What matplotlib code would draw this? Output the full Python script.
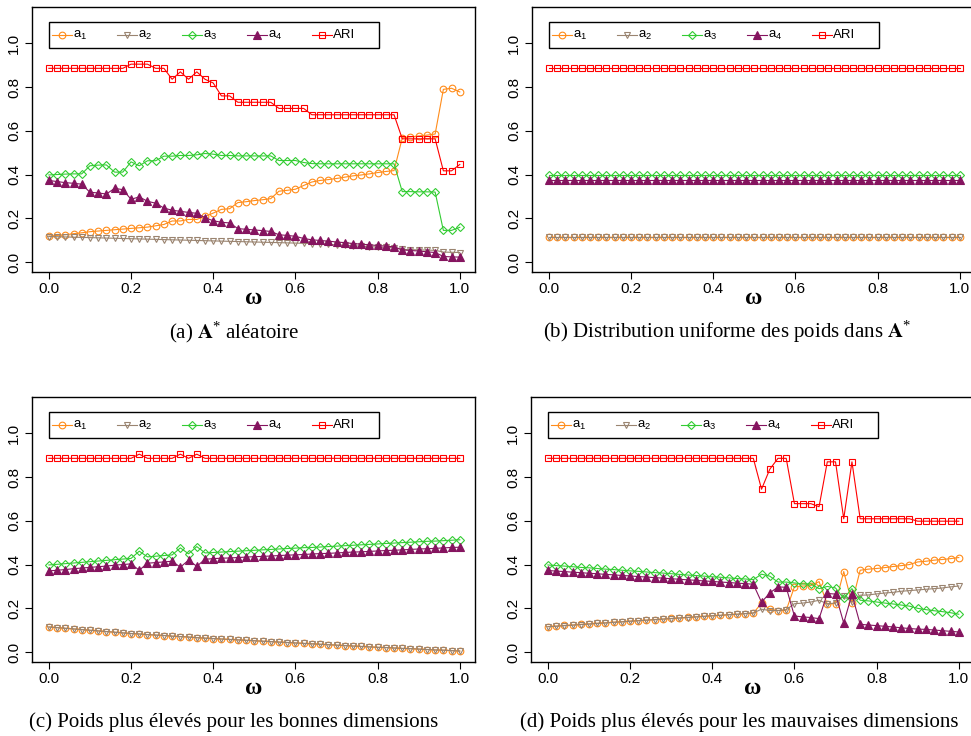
import matplotlib
matplotlib.use("Agg")
import matplotlib.pyplot as plt
from matplotlib.lines import Line2D
from matplotlib.patches import Rectangle

plt.rcParams['font.family'] = ['Liberation Sans', 'DejaVu Sans']
plt.rcParams['mathtext.default'] = 'regular'

# valeurs de omega (pas de 0.02)
omega = [0.00, 0.02, 0.04, 0.06, 0.08, 0.10, 0.12, 0.14, 0.16, 0.18,
         0.20, 0.22, 0.24, 0.26, 0.28, 0.30, 0.32, 0.34, 0.36, 0.38,
         0.40, 0.42, 0.44, 0.46, 0.48, 0.50, 0.52, 0.54, 0.56, 0.58,
         0.60, 0.62, 0.64, 0.66, 0.68, 0.70, 0.72, 0.74, 0.76, 0.78,
         0.80, 0.82, 0.84, 0.86, 0.88, 0.90, 0.92, 0.94, 0.96, 0.98, 1.00]

# ---- (a) A* aleatoire ----
a1_a = [0.119, 0.122, 0.125, 0.130, 0.134, 0.139, 0.142, 0.145, 0.148, 0.151,
        0.154, 0.157, 0.160, 0.166, 0.172, 0.188, 0.188, 0.195, 0.195, 0.209,
        0.224, 0.241, 0.244, 0.272, 0.276, 0.281, 0.285, 0.290, 0.324, 0.328,
        0.333, 0.350, 0.366, 0.373, 0.377, 0.382, 0.388, 0.394, 0.398, 0.403,
        0.409, 0.414, 0.418, 0.567, 0.572, 0.576, 0.580, 0.585, 0.789, 0.794, 0.777]
a2_a = [0.117, 0.116, 0.115, 0.114, 0.113, 0.112, 0.111, 0.110, 0.109, 0.108,
        0.107, 0.106, 0.105, 0.104, 0.103, 0.102, 0.101, 0.100, 0.099, 0.098,
        0.097, 0.096, 0.095, 0.094, 0.093, 0.092, 0.091, 0.090, 0.089, 0.088,
        0.087, 0.086, 0.085, 0.083, 0.081, 0.079, 0.077, 0.075, 0.073, 0.071,
        0.069, 0.067, 0.066, 0.058, 0.057, 0.056, 0.055, 0.054, 0.046, 0.045, 0.044]
a3_a = [0.398, 0.400, 0.402, 0.403, 0.403, 0.440, 0.443, 0.444, 0.411, 0.411,
        0.458, 0.440, 0.463, 0.463, 0.484, 0.484, 0.487, 0.487, 0.490, 0.496,
        0.493, 0.487, 0.487, 0.485, 0.485, 0.485, 0.485, 0.485, 0.464, 0.464,
        0.464, 0.455, 0.450, 0.449, 0.449, 0.449, 0.449, 0.449, 0.449, 0.449,
        0.449, 0.449, 0.449, 0.322, 0.322, 0.321, 0.321, 0.320, 0.145, 0.145, 0.159]
a4_a = [0.373, 0.368, 0.363, 0.360, 0.356, 0.319, 0.316, 0.311, 0.337, 0.331,
        0.287, 0.298, 0.278, 0.269, 0.247, 0.237, 0.232, 0.227, 0.223, 0.203,
        0.189, 0.182, 0.179, 0.153, 0.150, 0.147, 0.144, 0.140, 0.125, 0.122,
        0.118, 0.108, 0.102, 0.099, 0.096, 0.092, 0.089, 0.085, 0.082, 0.079,
        0.076, 0.073, 0.070, 0.056, 0.053, 0.051, 0.047, 0.044, 0.026, 0.024, 0.023]
ari_a = [0.885, 0.885, 0.885, 0.885, 0.885, 0.885, 0.885, 0.885, 0.885, 0.885,
         0.904, 0.904, 0.904, 0.885, 0.885, 0.835, 0.869, 0.835, 0.869, 0.835,
         0.818, 0.759, 0.759, 0.730, 0.730, 0.730, 0.730, 0.730, 0.702, 0.702,
         0.702, 0.702, 0.673, 0.673, 0.673, 0.673, 0.673, 0.673, 0.673, 0.673,
         0.673, 0.673, 0.673, 0.563, 0.563, 0.563, 0.563, 0.563, 0.417, 0.417, 0.446]

# ---- (b) distribution uniforme : valeurs constantes ----
a1_b = [0.117] * 51
a2_b = [0.117] * 51
a3_b = [0.398] * 51
a4_b = [0.373] * 51
ari_b = [0.885] * 51

# ---- (c) poids eleves pour les bonnes dimensions ----
a1_c = [0.115, 0.112, 0.109, 0.106, 0.103, 0.100, 0.097, 0.094, 0.091, 0.088,
        0.085, 0.083, 0.080, 0.078, 0.076, 0.073, 0.071, 0.069, 0.066, 0.064,
        0.062, 0.060, 0.058, 0.056, 0.054, 0.052, 0.050, 0.048, 0.046, 0.044,
        0.042, 0.040, 0.038, 0.036, 0.034, 0.032, 0.030, 0.028, 0.026, 0.024,
        0.022, 0.021, 0.019, 0.017, 0.016, 0.014, 0.012, 0.010, 0.009, 0.007, 0.005]
a2_c = list(a1_c)
a3_c = [0.398, 0.401, 0.404, 0.407, 0.410, 0.413, 0.416, 0.419, 0.422, 0.425,
        0.428, 0.461, 0.435, 0.438, 0.441, 0.444, 0.476, 0.449, 0.482, 0.453,
        0.455, 0.457, 0.459, 0.461, 0.463, 0.465, 0.467, 0.469, 0.471, 0.473,
        0.475, 0.477, 0.478, 0.480, 0.482, 0.484, 0.486, 0.488, 0.490, 0.492,
        0.494, 0.496, 0.498, 0.500, 0.502, 0.504, 0.506, 0.507, 0.509, 0.511, 0.513]
a4_c = [0.371, 0.374, 0.377, 0.381, 0.384, 0.387, 0.390, 0.393, 0.397, 0.400,
        0.403, 0.374, 0.406, 0.409, 0.412, 0.415, 0.388, 0.420, 0.392, 0.424,
        0.427, 0.429, 0.430, 0.432, 0.434, 0.436, 0.437, 0.439, 0.441, 0.443,
        0.444, 0.446, 0.448, 0.450, 0.451, 0.453, 0.455, 0.457, 0.458, 0.460,
        0.462, 0.464, 0.465, 0.467, 0.469, 0.471, 0.472, 0.474, 0.476, 0.478, 0.479]
ari_c = [0.885, 0.885, 0.885, 0.885, 0.885, 0.885, 0.885, 0.885, 0.885, 0.885,
         0.885, 0.904, 0.885, 0.885, 0.885, 0.885, 0.904, 0.885, 0.904, 0.885,
         0.885, 0.885, 0.885, 0.885, 0.885, 0.885, 0.885, 0.885, 0.885, 0.885,
         0.885, 0.885, 0.885, 0.885, 0.885, 0.885, 0.885, 0.885, 0.885, 0.885,
         0.885, 0.885, 0.885, 0.885, 0.885, 0.885, 0.885, 0.885, 0.885, 0.885, 0.885]

# ---- (d) poids eleves pour les mauvaises dimensions ----
a1_d = [0.117, 0.119, 0.122, 0.124, 0.127, 0.129, 0.132, 0.134, 0.137, 0.139,
        0.142, 0.144, 0.146, 0.149, 0.151, 0.154, 0.156, 0.159, 0.161, 0.164,
        0.166, 0.168, 0.171, 0.173, 0.176, 0.178, 0.224, 0.195, 0.190, 0.191,
        0.298, 0.302, 0.304, 0.322, 0.219, 0.222, 0.368, 0.225, 0.374, 0.379,
        0.382, 0.386, 0.391, 0.395, 0.400, 0.412, 0.415, 0.420, 0.423, 0.427, 0.432]
a2_d = [0.116, 0.118, 0.121, 0.123, 0.126, 0.128, 0.131, 0.133, 0.136, 0.138,
        0.141, 0.143, 0.146, 0.148, 0.151, 0.153, 0.156, 0.158, 0.161, 0.163,
        0.166, 0.168, 0.171, 0.173, 0.176, 0.179, 0.196, 0.190, 0.190, 0.194,
        0.221, 0.224, 0.229, 0.237, 0.221, 0.224, 0.256, 0.229, 0.260, 0.261,
        0.266, 0.270, 0.273, 0.278, 0.281, 0.284, 0.287, 0.290, 0.293, 0.298, 0.302]
a3_d = [0.398, 0.395, 0.393, 0.390, 0.387, 0.385, 0.382, 0.379, 0.377, 0.374,
        0.371, 0.369, 0.366, 0.363, 0.361, 0.358, 0.355, 0.352, 0.350, 0.347,
        0.344, 0.342, 0.339, 0.336, 0.334, 0.331, 0.356, 0.347, 0.320, 0.320,
        0.316, 0.311, 0.311, 0.290, 0.300, 0.293, 0.245, 0.290, 0.237, 0.234,
        0.229, 0.224, 0.220, 0.215, 0.210, 0.200, 0.194, 0.189, 0.185, 0.180, 0.173]
a4_d = [0.373, 0.370, 0.368, 0.365, 0.363, 0.360, 0.358, 0.355, 0.353, 0.350,
        0.348, 0.345, 0.343, 0.340, 0.338, 0.335, 0.333, 0.330, 0.328, 0.325,
        0.323, 0.320, 0.318, 0.315, 0.313, 0.310, 0.228, 0.270, 0.298, 0.296,
        0.165, 0.161, 0.158, 0.153, 0.268, 0.265, 0.133, 0.264, 0.127, 0.124,
        0.121, 0.118, 0.115, 0.111, 0.108, 0.105, 0.104, 0.101, 0.098, 0.095, 0.092]
ari_d = [0.885, 0.885, 0.885, 0.885, 0.885, 0.885, 0.885, 0.885, 0.885, 0.885,
         0.885, 0.885, 0.885, 0.885, 0.885, 0.885, 0.885, 0.885, 0.885, 0.885,
         0.885, 0.885, 0.885, 0.885, 0.885, 0.885, 0.744, 0.835, 0.885, 0.885,
         0.678, 0.678, 0.678, 0.664, 0.869, 0.869, 0.609, 0.869, 0.609, 0.609,
         0.609, 0.609, 0.609, 0.609, 0.609, 0.598, 0.598, 0.598, 0.598, 0.598, 0.598]

labels = ['a$_1$', 'a$_2$', 'a$_3$', 'a$_4$', 'ARI']
xticks = [0.0, 0.2, 0.4, 0.6, 0.8, 1.0]
yticks = [0.0, 0.2, 0.4, 0.6, 0.8, 1.0]

styles = [
    dict(color='#FF8C1A', marker='o', mfc='none', ms=4.8),
    dict(color='#9A8470', marker='v', mfc='none', ms=5.0),
    dict(color='#33CC33', marker='D', mfc='none', ms=3.8),
    dict(color='#85145F', marker='^', mfc='#85145F', ms=5.2),
    dict(color='#FF0000', marker='s', mfc='none', ms=4.3),
]

panels = [
    ([a1_a, a2_a, a3_a, a4_a, ari_a], (32, 7), r'(a) $\mathbf{A}^{*}$ aléatoire', (234, 332)),
    ([a1_b, a2_b, a3_b, a4_b, ari_b], (532, 7), r'(b) Distribution uniforme des poids dans $\mathbf{A}^{*}$', (727, 332)),
    ([a1_c, a2_c, a3_c, a4_c, ari_c], (32, 397), '(c) Poids plus élevés pour les bonnes dimensions', (234, 722)),
    ([a1_d, a2_d, a3_d, a4_d, ari_d], (531, 397), '(d) Poids plus élevés pour les mauvaises dimensions', (739, 722)),
]

W, H = 971, 736
AW, AH = 443, 265
fig = plt.figure(figsize=(W / 100, H / 100), dpi=100)

for series, (left, top), caption, (cx, cy) in panels:
    ax = fig.add_axes([left / W, 1 - (top + AH) / H, AW / W, AH / H])
    for vals, st in zip(series, styles):
        ax.plot(omega, vals, lw=0.8, mew=0.8, **st)
    ax.set_xlim(-0.041, 1.037)
    ax.set_ylim(-0.045, 1.165)
    ax.set_xticks(xticks)
    ax.set_xticklabels([f'{t:.1f}' for t in xticks])
    ax.set_yticks(yticks)
    ax.set_yticklabels([f'{t:.1f}' for t in yticks], rotation=90, va='center')
    ax.tick_params(direction='out', length=5, width=0.8, labelsize=11)
    ax.tick_params(axis='x', pad=2)
    ax.tick_params(axis='y', pad=3)
    for sp in ax.spines.values():
        sp.set_linewidth(1.0)

    # legende horizontale facon R
    ax.add_patch(Rectangle((17 / AW, 1 - 41 / AH), 330 / AW, 26 / AH,
                           transform=ax.transAxes, fill=False, ec='black', lw=1.0))
    ym = 1 - 28 / AH
    for i, (lab, st) in enumerate(zip(labels, styles)):
        x0 = (20 + 65 * i) / AW
        x1 = (40 + 65 * i) / AW
        ax.add_line(Line2D([x0, x1], [ym, ym], transform=ax.transAxes,
                           color=st['color'], lw=0.8))
        ax.add_line(Line2D([(x0 + x1) / 2], [ym], transform=ax.transAxes,
                           lw=0, mew=0.8, **st))
        ax.text(x1 + 1 / AW, ym, lab, transform=ax.transAxes, fontsize=9.5,
                va='center', ha='left')

    # etiquette omega
    xc = (left + 17 + 205) / W
    fig.text(xc, 1 - (top + 292) / H, 'ω', family='Liberation Serif', weight='bold',
             fontsize=17, ha='center', va='center')
    fig.text(cx / W, 1 - cy / H, caption, family='Liberation Serif',
             math_fontfamily='stix', fontsize=15, ha='center', va='center')

fig.savefig('out.png', dpi=100)
